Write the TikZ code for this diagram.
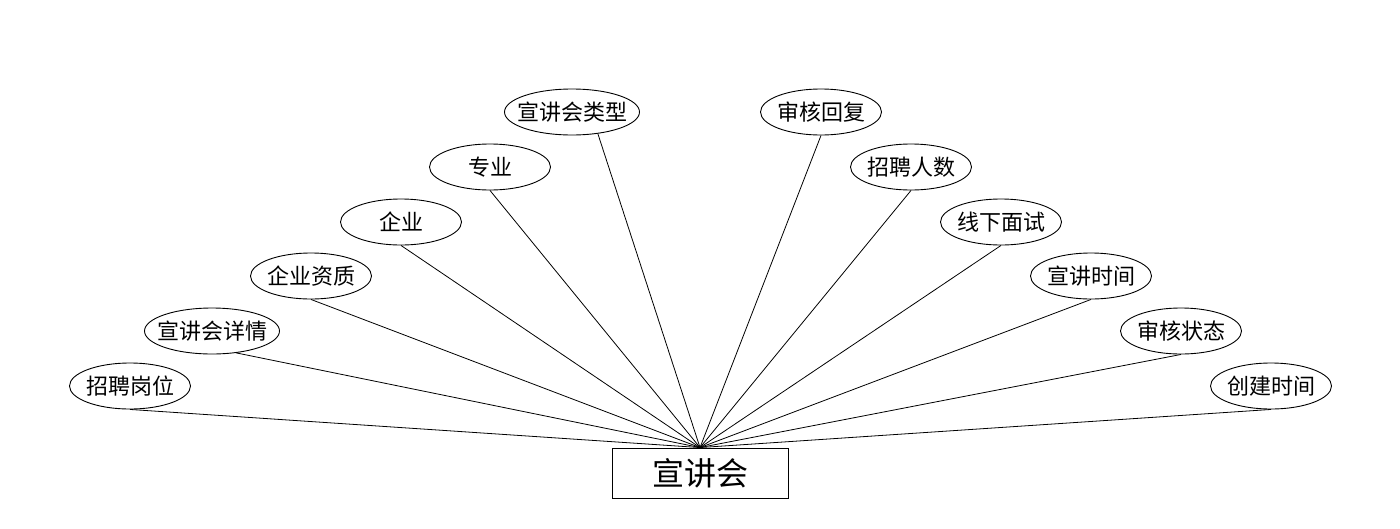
\documentclass[tikz,border=0pt]{standalone}
\usepackage{fontspec}
\newfontfamily\cjk{Noto Sans CJK SC}
\usetikzlibrary{shapes.geometric}
\begin{document}
\begin{tikzpicture}[x=1pt,y=-1pt,
  attr/.style={ellipse,draw,line width=0.9pt,inner ysep=0pt,inner xsep=-3pt,minimum width=121pt,minimum height=46pt,font=\cjk\fontsize{22}{25}\selectfont},
  wide/.style={attr,inner xsep=-9pt,minimum width=135pt},
  ent/.style={rectangle,draw,line width=0.9pt,inner sep=0pt,minimum width=176pt,minimum height=50pt,font=\cjk\fontsize{32}{36}\selectfont},
  link/.style={draw,line width=0.8pt}]
\useasboundingbox (0,0) rectangle (1400,528);
\node[ent] (r) at (700,473) {宣讲会};
\node[attr] (a1) at (130,386) {招聘岗位};
\node[wide] (a2) at (212,331) {宣讲会详情};
\node[attr] (a3) at (311,276) {企业资质};
\node[attr] (a4) at (401,222) {企业};
\node[attr] (a5) at (490,167) {专业};
\node[wide] (a6) at (572,112) {宣讲会类型};
\node[attr] (b1) at (821,112) {审核回复};
\node[attr] (b2) at (911,167) {招聘人数};
\node[attr] (b3) at (1001,222) {线下面试};
\node[attr] (b4) at (1091,276) {宣讲时间};
\node[attr] (b5) at (1181,331) {审核状态};
\node[attr] (b6) at (1271,386) {创建时间};
\draw[link] (a1.south) -- (r.north);
\draw[link] (a2.-42) -- (r.north);
\draw[link] (a3.south) -- (r.north);
\draw[link] (a4.south) -- (r.north);
\draw[link] (a5.south) -- (r.north);
\draw[link] (a6.-40) -- (r.north);
\draw[link] (b1.south) -- (r.north);
\draw[link] (b2.south) -- (r.north);
\draw[link] (b3.south) -- (r.north);
\draw[link] (b4.south) -- (r.north);
\draw[link] (b5.south) -- (r.north);
\draw[link] (b6.south) -- (r.north);
\end{tikzpicture}
\end{document}
